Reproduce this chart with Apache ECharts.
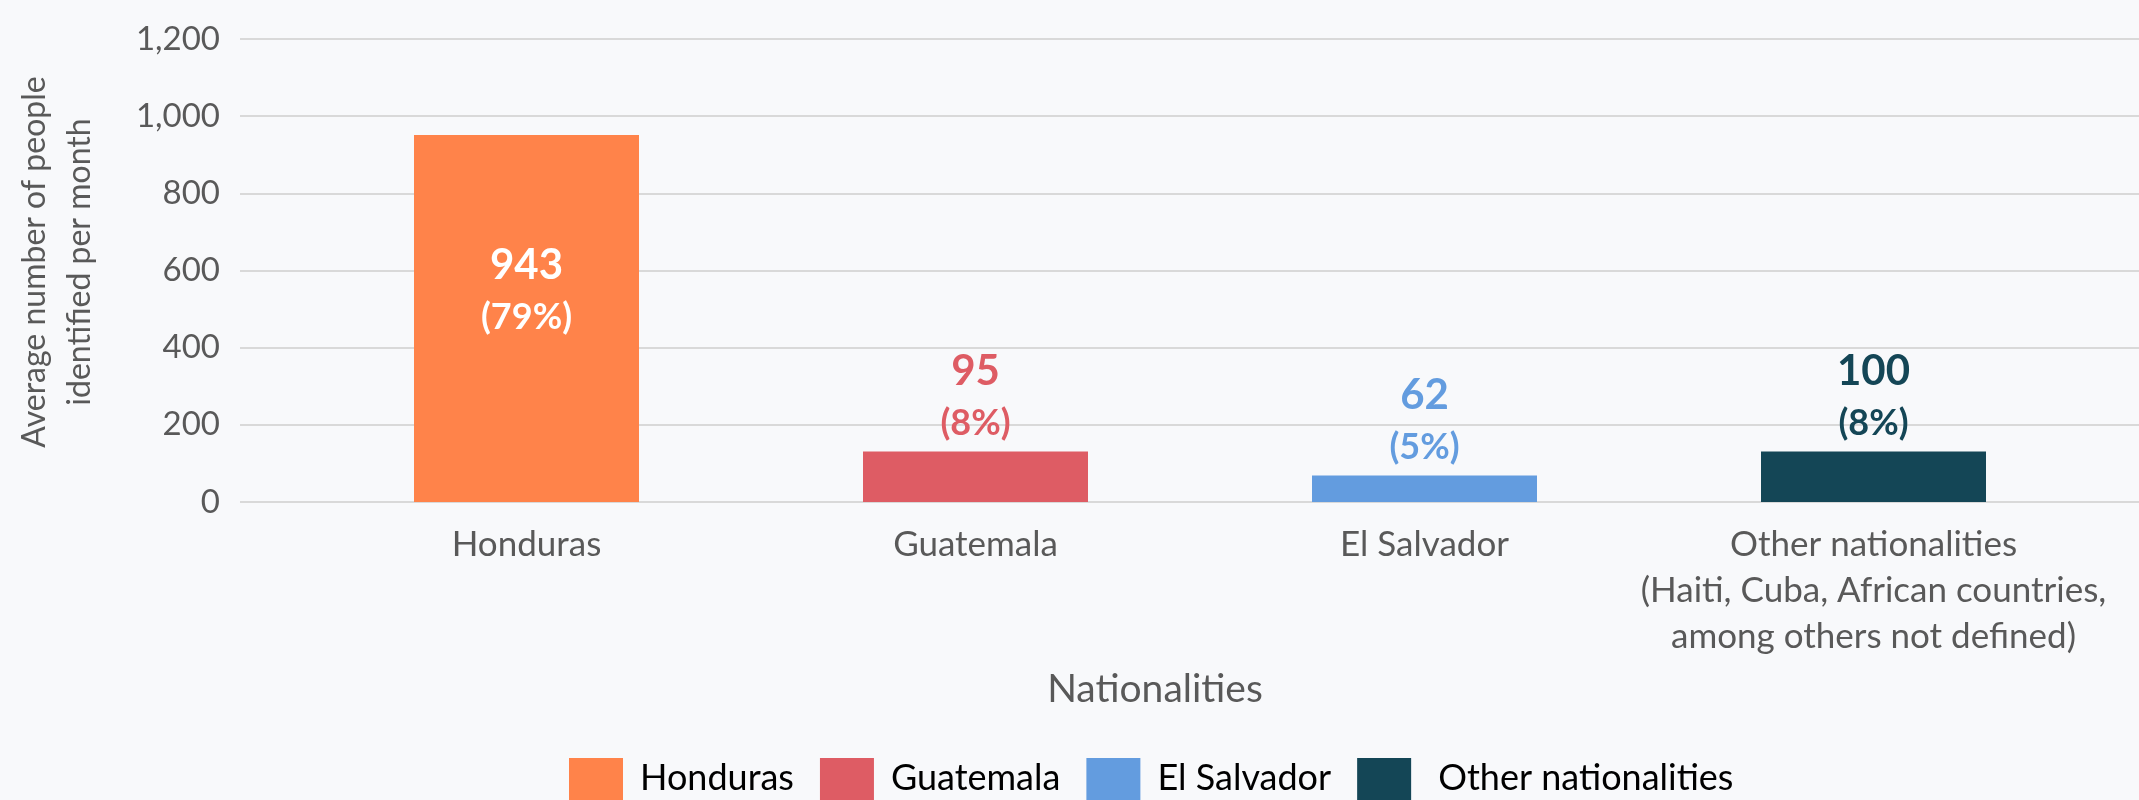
<!DOCTYPE html>
<html>
<head>
<meta charset="utf-8">
<script src="https://cdn.jsdelivr.net/npm/echarts@6/dist/echarts.min.js"></script>
<style>
html,body{margin:0;padding:0;background:#F8F9FB;}
#chart{width:2139px;height:800px;}
</style>
</head>
<body>
<div id="chart"></div>
<script>
// ---- data ----
var categories = ['Honduras', 'Guatemala', 'El Salvador', 'Other nationalities\n(Haiti, Cuba, African countries,\namong others not defined)'];
var seriesNames = ['Honduras', 'Guatemala', 'El Salvador', 'Other nationalities'];
var barValues = [951, 131, 69, 131];
var labelValues = ['943', '95', '62', '100'];
var labelShares = ['(79%)', '(8%)', '(5%)', '(8%)'];
var yTicks = [0, 200, 400, 600, 800, 1000, 1200];
var colors = ['#FF834A', '#DE5C64', '#639CDF', '#144656'];

var FONT = 'Lato';
var chart = echarts.init(document.getElementById('chart'));

var series = seriesNames.map(function (name, i) {
  var inside = (i === 0);
  return {
    name: name,
    type: 'bar',
    xAxisIndex: 1,
    yAxisIndex: 1,
    stack: 'all',
    barWidth: 225,
    itemStyle: { color: colors[i] },
    label: {
      show: true,
      position: inside ? 'inside' : 'top',
      offset: inside ? [0, -27] : [0, 0],
      distance: 2,
      formatter: function () { return '{a|' + labelValues[i] + '}\n{b|' + labelShares[i] + '}'; },
      rich: {
        a: { fontFamily: FONT, fontSize: 42, fontWeight: 'bold', lineHeight: 52, color: inside ? '#ffffff' : colors[i] },
        b: { fontFamily: FONT, fontSize: 36, fontWeight: 'bold', lineHeight: 52, color: inside ? '#ffffff' : colors[i] }
      }
    },
    data: categories.map(function (c, j) { return j === i ? barValues[i] : '-'; })
  };
});

var legendData = seriesNames.map(function (n) { return { name: n }; });

chart.setOption({
  backgroundColor: '#F8F9FB',
  animation: false,
  grid: [
    { left: 240, right: 0, top: 39, bottom: 298 },
    { left: 302, right: 41, top: 39, bottom: 298 }
  ],
  xAxis: [
    { type: 'category', gridIndex: 0, show: false, data: categories },
    {
      type: 'category', gridIndex: 1, data: categories,
      axisLine: { show: false }, axisTick: { show: false },
      axisLabel: { fontFamily: FONT, fontSize: 35, lineHeight: 46, color: '#595959', margin: 20, interval: 0 }
    }
  ],
  yAxis: [
    {
      type: 'value', gridIndex: 0, min: yTicks[0], max: yTicks[yTicks.length - 1], interval: yTicks[1] - yTicks[0],
      axisLine: { show: false }, axisTick: { show: false },
      axisLabel: {
        fontFamily: FONT, fontSize: 33, color: '#595959', margin: 20,
        formatter: function (v) { return v.toLocaleString('en-US'); }
      },
      splitLine: { lineStyle: { color: '#D9D9D9', width: 2 } }
    },
    {
      type: 'value', gridIndex: 1, min: yTicks[0], max: yTicks[yTicks.length - 1], interval: yTicks[1] - yTicks[0],
      show: false, splitLine: { show: false }
    }
  ],
  legend: {
    data: legendData,
    left: 564, top: 753,
    itemWidth: 54, itemHeight: 54, itemGap: 26,
    icon: 'rect',
    formatter: function (name) {
      return name === seriesNames[seriesNames.length - 1] ? '{o|' + name + '}' : '{t|' + name + '}';
    },
    textStyle: {
      fontFamily: FONT, fontSize: 36, color: '#000000',
      rich: {
        t: { fontFamily: FONT, fontSize: 36, color: '#000000', padding: [0, 0, 14, 12] },
        o: { fontFamily: FONT, fontSize: 36, color: '#000000', padding: [0, 0, 14, 22] }
      }
    }
  },
  graphic: [
    {
      type: 'text', x: 1155, y: 689,
      style: { text: 'Nationalities', fontFamily: FONT, fontSize: 39, fill: '#595959', textAlign: 'center', textVerticalAlign: 'middle' }
    },
    {
      type: 'text', x: 57, y: 262, rotation: Math.PI / 2,
      style: { text: 'Average number of people\nidentified per month', fontFamily: FONT, fontSize: 32, lineHeight: 45, fill: '#595959', textAlign: 'center', textVerticalAlign: 'middle' }
    }
  ],
  series: series
});
</script>
</body>
</html>
